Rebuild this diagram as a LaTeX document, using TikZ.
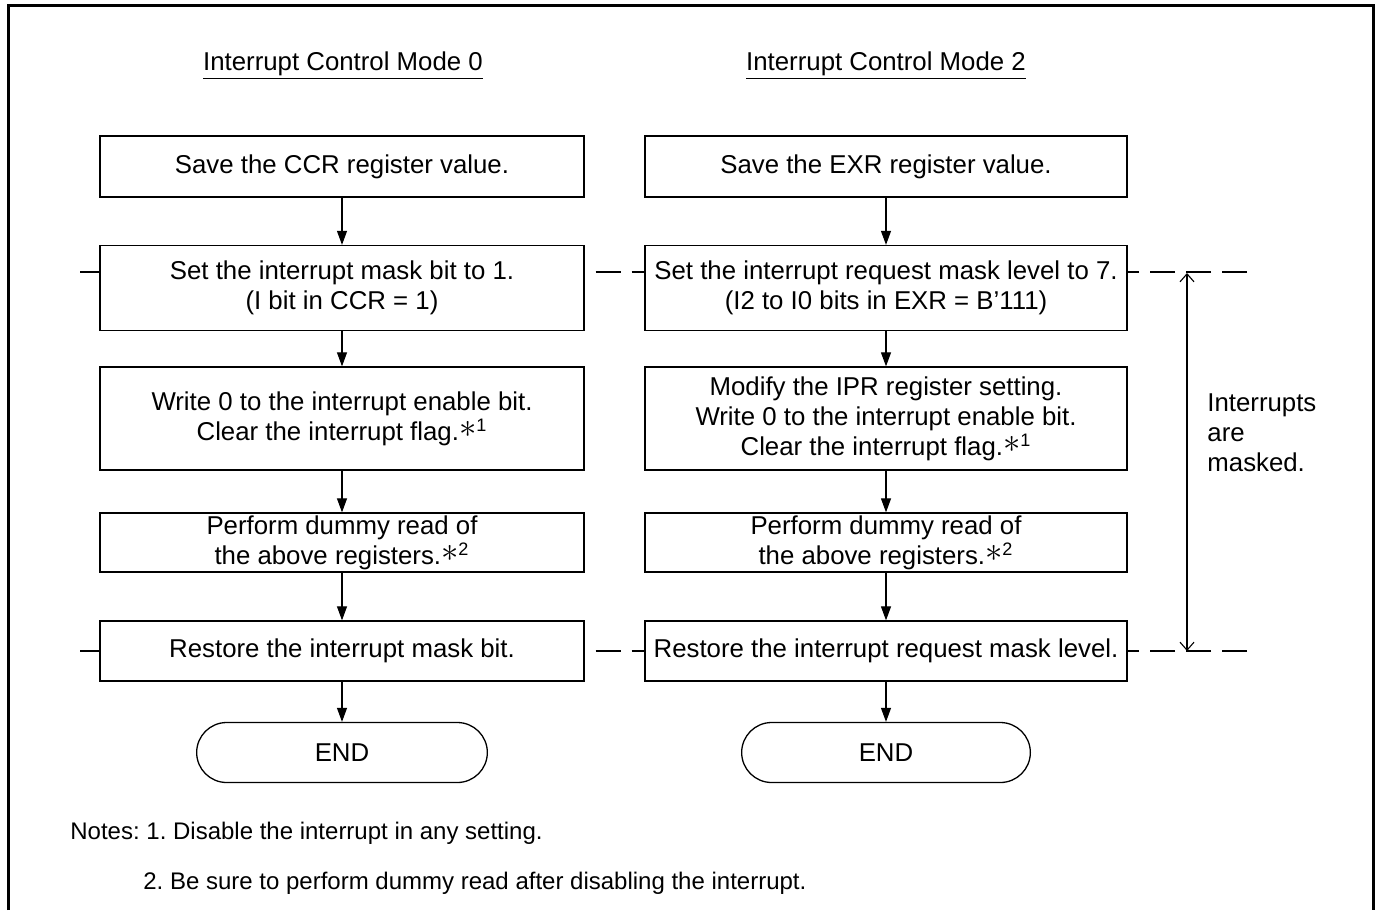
\documentclass[tikz,border=0pt]{standalone}
\usepackage{fontspec}
\setmainfont{Liberation Sans}
\usetikzlibrary{arrows.meta,shapes.misc}
\frenchspacing
\newcommand{\nota}[1]{\smash{\raisebox{1.2pt}{\fontsize{16}{16}\selectfont$\ast$}\textsuperscript{#1}}}

\begin{document}
\begin{tikzpicture}[x=0.5pt, y=-0.5pt,
    texto/.style={font=\fontsize{12.9}{15}\selectfont},
    caixa/.style={texto, draw, line width=0.65pt, align=center, inner sep=0pt},
    fim/.style={texto, draw, rounded rectangle, line width=0.65pt, minimum width=152pt, minimum height=30pt},
    seta/.style={-{Triangle[length=7pt, width=5pt]}, line width=0.55pt},
    traco/.style={line width=1pt, dash pattern=on 12.5pt off 5.5pt}]
    \useasboundingbox (0,0) rectangle (1380,910);

    % Moldura (aberta embaixo)
    \draw[line width=1.5pt] (8,910) -- (8,5) -- (1373,5) -- (1373,910);

    % Títulos das colunas
    \node[texto] (tit0) at (343,66) {\underline{Interrupt Control Mode 0}};
    \node[texto] (tit2) at (886,66) {\underline{Interrupt Control Mode 2}};

    % Caixas: centro y/altura/{modo 0}/{modo 2}
    \foreach \y/\h/\ta/\tb [count=\i] in {
        166.5/61/{Save the CCR register value.}/{Save the EXR register value.},
        288/85/{Set the interrupt mask bit to 1.\\(I bit in CCR = 1)}/{Set the interrupt request mask level to 7.\\(I2 to I0 bits in EXR = B'111)},
        418.5/103/{Write 0 to the interrupt enable bit.\\Clear the interrupt flag.\nota{1}}/{Modify the IPR register setting.\\Write 0 to the interrupt enable bit.\\Clear the interrupt flag.\nota{1}},
        542.5/59/{Perform dummy read of\\the above registers.\nota{2}}/{Perform dummy read of\\the above registers.\nota{2}},
        651/60/{Restore the interrupt mask bit.}/{Restore the interrupt request mask level.}} {
        \node[caixa, minimum width=242pt, minimum height=\h*0.5pt] (l\i) at (342,\y) {\ta};
        \node[caixa, minimum width=241pt, minimum height=\h*0.5pt] (r\i) at (886,\y) {\tb};
    }

    % Terminadores
    \node[fim] (l6) at (342,752.5) {END};
    \node[fim, minimum width=151pt] (r6) at (886,752.5) {END};

    % Setas entre as caixas
    \foreach \col in {l,r} {
        \foreach \i [evaluate=\i as \j using int(\i+1)] in {1,...,5} {
            \draw[seta] (\col\i.south) -- (\col\j.north);
        }
    }

    % Linhas tracejadas (início e fim do mascaramento)
    \coordinate (esqA) at (80,272);
    \coordinate (dirA) at (1247,272);
    \coordinate (esqB) at (80,651);
    \coordinate (dirB) at (1247,651);
    \draw[traco] (esqA) -- (l2.west |- esqA);
    \draw[traco, dash phase=12.5pt] (l2.east |- esqA) -- (r2.west |- esqA);
    \draw[traco] (dirA) -- (r2.east |- dirA);
    \draw[traco] (esqB) -- (l5.west |- esqB);
    \draw[traco, dash phase=12.5pt] (l5.east |- esqB) -- (r5.west |- esqB);
    \draw[traco] (dirB) -- (r5.east |- dirB);

    % Seta dupla e rótulo
    \coordinate (mascA) at (1187,273);
    \coordinate (mascB) at (1187,651);
    \draw[{Straight Barb[length=4pt, width=7pt]}-{Straight Barb[length=4pt, width=7pt]}, line width=0.55pt] (mascA) -- (mascB);
    \node[texto, anchor=west, align=left, inner sep=0pt] (masc) at (1207,433) {Interrupts\\are\\masked.};

    % Notas
    \node[anchor=west, inner sep=0pt, font=\fontsize{12}{15}\selectfont] (nota1) at (70,833) {Notes: 1. Disable the interrupt in any setting.};
    \node[anchor=west, inner sep=0pt, font=\fontsize{12}{15}\selectfont] (nota2) at (143,883) {2. Be sure to perform dummy read after disabling the interrupt.};
\end{tikzpicture}
\end{document}
